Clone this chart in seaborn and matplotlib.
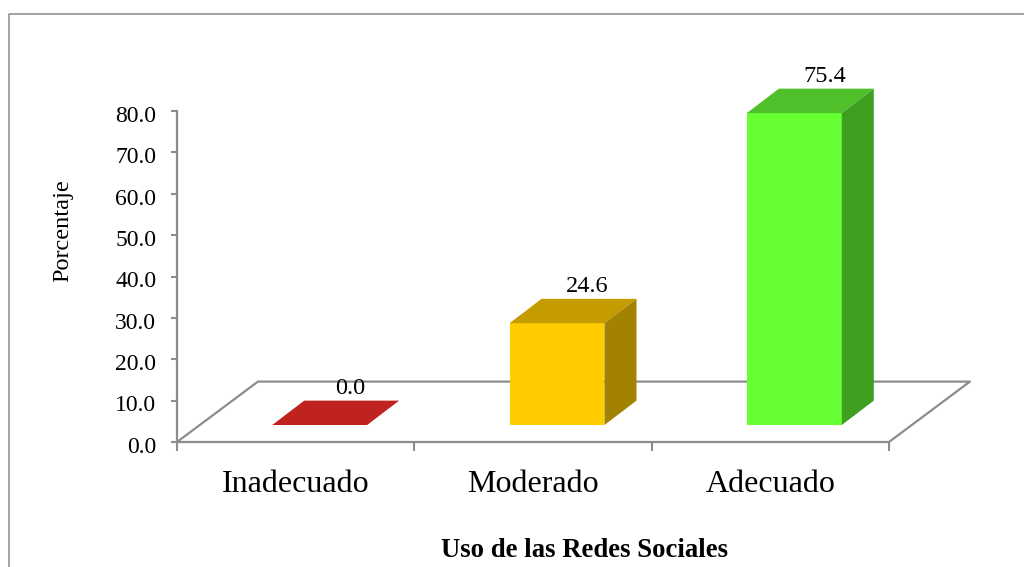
"""Barras con efecto 3D: uso de las redes sociales."""

import matplotlib.pyplot as plt
import pandas as pd
import seaborn as sns
from matplotlib.lines import Line2D
from matplotlib.patches import Polygon
from matplotlib.transforms import ScaledTranslation

categorias = ["Inadecuado", "Moderado", "Adecuado"]
porcentajes = [0.0, 24.6, 75.4]
ticks_y = [0, 10, 20, 30, 40, 50, 60, 70, 80]

color_frente = ["#C0231F", "#FFCC00", "#66FF33"]
color_techo = ["#C0231F", "#C49C00", "#4FC02A"]
color_lado = ["#8F1A17", "#A38200", "#3EA020"]
GRIS = "#8C8C8C"

ANCHO, ALTO = 1024, 567
# tamanos del efecto 3D en unidades de datos
DX_PISO, DY_PISO = 0.341, 14.6
DX_BARRA, DY_BARRA = 0.135, 5.9
CORRIDA_X, CORRIDA_Y = 0.101, 4.1

sns.set_theme(style="white")
plt.rcParams["font.family"] = ["Liberation Serif", "DejaVu Serif"]

fig = plt.figure(figsize=(ANCHO / 100, ALTO / 100), dpi=100)
ax = fig.add_axes([177 / ANCHO, 1 - 442 / ALTO, 712 / ANCHO, 331 / ALTO])
ax.patch.set_alpha(0)

tabla = pd.DataFrame({"categoria": categorias, "porcentaje": porcentajes})
sns.barplot(
    data=tabla, x="categoria", y="porcentaje", hue="categoria",
    palette=color_frente, legend=False, width=0.4, saturation=1,
    linewidth=0, ax=ax, zorder=3,
)
ax.set_xlim(-0.5, 2.5)
ax.set_ylim(0, 80)

# piso del grafico
ax.plot(
    [-0.5, -0.5 + DX_PISO, 2.5 + DX_PISO, 2.5],
    [0, DY_PISO, DY_PISO, 0],
    color=GRIS, lw=1.6, clip_on=False, zorder=1,
)

# caras superior y lateral de cada barra
for i, barra in enumerate(ax.patches):
    barra.set_x(barra.get_x() + CORRIDA_X)
    barra.set_y(CORRIDA_Y)
    barra.set_clip_on(False)
    x0, x1 = barra.get_x(), barra.get_x() + barra.get_width()
    y0, y1 = CORRIDA_Y, CORRIDA_Y + barra.get_height()
    techo = [(x0, y1), (x1, y1), (x1 + DX_BARRA, y1 + DY_BARRA), (x0 + DX_BARRA, y1 + DY_BARRA)]
    lado = [(x1, y0), (x1 + DX_BARRA, y0 + DY_BARRA), (x1 + DX_BARRA, y1 + DY_BARRA), (x1, y1)]
    ax.add_patch(Polygon(techo, color=color_techo[i], lw=0, clip_on=False, zorder=3))
    if barra.get_height() > 0:
        ax.add_patch(Polygon(lado, color=color_lado[i], lw=0, clip_on=False, zorder=3))
    ax.text(
        i + 0.228, y1 + DY_BARRA + 0.5, f"{porcentajes[i]:.1f}",
        ha="center", va="bottom", fontsize=17.5, color="black", zorder=4,
    )

sns.despine(ax=ax)
for lado_eje in ["left", "bottom"]:
    ax.spines[lado_eje].set_color(GRIS)
    ax.spines[lado_eje].set_linewidth(1.6)

ax.set_yticks(ticks_y, [f"{t:.1f}" for t in ticks_y])
ax.set_xticks([-0.5, 0.5, 1.5, 2.5], ["", "", "", ""])
ax.set_xticks([0, 1, 2], categorias, minor=True)
ax.tick_params(axis="y", left=True, length=4, width=1.5, color=GRIS, pad=11, labelsize=17, labelcolor="black")
ax.tick_params(axis="x", which="major", bottom=True, length=6.5, width=1.5, color=GRIS)
ax.tick_params(axis="x", which="minor", bottom=False, length=0, pad=20, labelsize=23, labelcolor="black")

# los numeros del eje y van un poco mas abajo que la marca
bajar = ScaledTranslation(0, -2 / 72, fig.dpi_scale_trans)
for etiqueta in ax.get_yticklabels():
    etiqueta.set_transform(etiqueta.get_transform() + bajar)

ax.set_ylabel("Porcentaje", fontsize=17.5, color="black")
ax.yaxis.set_label_coords((73 - 177) / 712, (442 - 231) / 331)
ax.set_xlabel("Uso de las Redes Sociales", fontsize=19.3, fontweight="bold", color="black")
ax.xaxis.set_label_coords((584.5 - 177) / 712, (442 - 538) / 331)

# marco exterior del grafico, cortado por la imagen
fig.add_artist(Line2D(
    [9 / ANCHO, 9 / ANCHO, 1], [0, 1 - 14 / ALTO, 1 - 14 / ALTO],
    color=GRIS, lw=1.1,
))

fig.savefig("out.png", dpi=100)
